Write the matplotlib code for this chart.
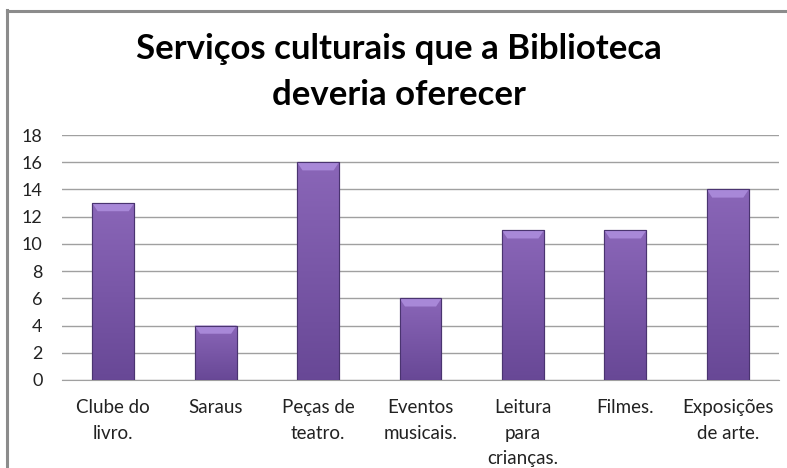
import numpy as np
import matplotlib
matplotlib.use("Agg")
import matplotlib.pyplot as plt
from matplotlib.patches import Polygon, Rectangle
from matplotlib.lines import Line2D

categories = ["Clube do\nlivro.", "Saraus", "Peças de\nteatro.", "Eventos\nmusicais.",
              "Leitura\npara\ncrianças.", "Filmes.", "Exposições\nde arte."]
values = [13, 4, 16, 6, 11, 11, 14]
yticks = list(range(0, 19, 2))
title = "Serviços culturais que a Biblioteca\ndeveria oferecer"

plt.rcParams["font.family"] = ["Lato", "DejaVu Sans"]

fig = plt.figure(figsize=(7.87, 4.68), dpi=100)
W, H = 787, 468
ax = fig.add_axes([62 / W, 1 - 380 / H, (779 - 62) / W, (380 - 135) / H])

# chart frame (top and left edges visible)
fig.add_artist(Line2D([7 / W, 7 / W], [0, 1 - 10 / H], color="#8c8c8c", lw=2.2))
fig.add_artist(Line2D([7 / W, 1], [1 - 10.5 / H, 1 - 10.5 / H], color="#8c8c8c", lw=2.2))

x = np.arange(len(values))
bw = 0.41
bars = ax.bar(x, values, width=bw, color="#7455a0", edgecolor="#4a3470", linewidth=0.8, zorder=3)

# vertical shading inside each bar
grad = np.linspace(0, 1, 256).reshape(-1, 1)
cmap = matplotlib.colors.LinearSegmentedColormap.from_list("pb", ["#684896", "#8a66b8"])
for rect, v in zip(bars, values):
    x0 = rect.get_x()
    im = ax.imshow(grad, extent=[x0, x0 + bw, 0, v], origin="lower", cmap=cmap,
                   aspect="auto", zorder=3.5, interpolation="bilinear")
    im.set_clip_path(rect)
    # lighter bevel at the top
    bev_h = 0.6
    bev_w = bw * 0.13
    top = Polygon([[x0, v], [x0 + bw, v], [x0 + bw - bev_w, v - bev_h], [x0 + bev_w, v - bev_h]],
                  closed=True, facecolor="#a888d8", edgecolor="none", zorder=4)
    ax.add_patch(top)
    ax.add_patch(Rectangle((x0, 0), bw, v, fill=False, edgecolor="#4a3470", lw=0.8, zorder=5))

ax.set_xlim(-0.5, len(values) - 0.5)
ax.set_ylim(0, 18)
ax.set_yticks(yticks)
ax.set_xticks(x)
ax.set_xticklabels(categories, fontsize=13.5, color="#222222", linespacing=1.6)
ax.tick_params(axis="y", labelsize=13, colors="#222222", length=0, pad=14)
ax.tick_params(axis="x", length=0, pad=14)
ax.grid(axis="y", color="#a0a0a0", lw=1, zorder=0)
for s in ["top", "right", "left"]:
    ax.spines[s].set_visible(False)
ax.spines["bottom"].set_color("#a0a0a0")

fig.text(0.507, 1 - 72 / H, title, ha="center", va="center", fontsize=25,
         fontweight="bold", color="#000000", linespacing=1.55)

fig.savefig("out.png", dpi=100)
